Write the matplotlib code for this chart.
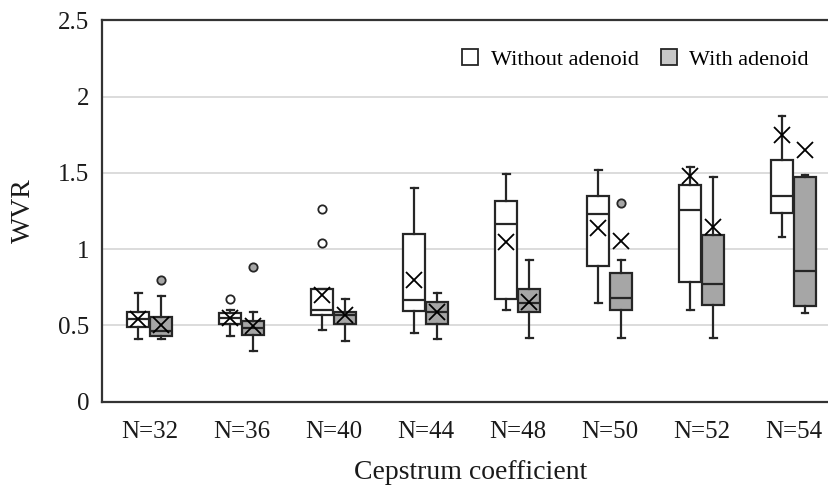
import matplotlib
matplotlib.use("Agg")
import matplotlib.pyplot as plt
from matplotlib.patches import Patch

plt.rcParams['font.family'] = ['Liberation Serif', 'DejaVu Serif']

# ---- data ----
categories = ["N=32", "N=36", "N=40", "N=44", "N=48", "N=50", "N=52", "N=54"]

# Without adenoid
wo_low = [0.41, 0.43, 0.47, 0.45, 0.60, 0.645, 0.60, 1.08]
wo_q1 = [0.49, 0.51, 0.565, 0.595, 0.67, 0.89, 0.785, 1.235]
wo_med = [0.54, 0.545, 0.60, 0.665, 1.165, 1.23, 1.255, 1.35]
wo_q3 = [0.585, 0.58, 0.74, 1.10, 1.315, 1.35, 1.42, 1.585]
wo_high = [0.71, 0.60, 0.74, 1.40, 1.495, 1.52, 1.54, 1.87]
wo_mean = [0.54, 0.545, 0.70, 0.80, 1.045, 1.14, 1.48, 1.745]
wo_out = [[], [0.67], [1.04, 1.26], [], [], [], [], []]

# With adenoid
w_low = [0.41, 0.33, 0.40, 0.41, 0.415, 0.415, 0.415, 0.58]
w_q1 = [0.43, 0.435, 0.51, 0.51, 0.585, 0.60, 0.635, 0.625]
w_med = [0.46, 0.48, 0.565, 0.585, 0.645, 0.68, 0.77, 0.855]
w_q3 = [0.555, 0.53, 0.59, 0.65, 0.735, 0.84, 1.09, 1.47]
w_high = [0.69, 0.59, 0.67, 0.71, 0.93, 0.93, 1.47, 1.485]
w_mean = [0.505, 0.495, 0.565, 0.59, 0.65, 1.05, 1.145, 1.65]
w_out = [[0.80], [0.885], [], [], [], [1.30], [], []]

grey = '#a6a6a6'
edge = '#262626'


def make_stats(low, q1, med, q3, high, mean, out):
    return [dict(whislo=a, q1=b, med=c, q3=d, whishi=e, mean=f, fliers=g)
            for a, b, c, d, e, f, g in zip(low, q1, med, q3, high, mean, out)]


fig = plt.figure(figsize=(8.29, 4.94), dpi=100)
ax = fig.add_axes([0.123, 0.187, 0.89, 0.772])

for stats, off, fc in [
        (make_stats(wo_low, wo_q1, wo_med, wo_q3, wo_high, wo_mean, wo_out), -0.125, 'white'),
        (make_stats(w_low, w_q1, w_med, w_q3, w_high, w_mean, w_out), 0.125, grey)]:
    pos = [i + off for i in range(len(categories))]
    ax.bxp(stats, positions=pos, widths=0.235, patch_artist=True, showmeans=True,
           capwidths=0.07, manage_ticks=False,
           boxprops=dict(facecolor=fc, edgecolor=edge, linewidth=1.6),
           medianprops=dict(color=edge, linewidth=1.6),
           whiskerprops=dict(color=edge, linewidth=1.6),
           capprops=dict(color=edge, linewidth=1.6),
           meanprops=dict(marker='x', markeredgecolor='black', markersize=12,
                          markeredgewidth=1.3),
           flierprops=dict(marker='o', markerfacecolor=fc, markeredgecolor=edge,
                           markersize=6, markeredgewidth=1.3))

ax.set_xlim(-0.52, len(categories) - 0.5)
ax.set_ylim(0, 2.5)
ax.set_yticks([0, 0.5, 1, 1.5, 2, 2.5])
ax.set_yticklabels(['0', '0.5', '1', '1.5', '2', '2.5'])
ax.set_xticks(range(len(categories)))
ax.set_xticklabels(categories)
ax.tick_params(length=0, labelsize=18, colors='#1a1a1a')
ax.tick_params(axis='x', pad=14)
ax.tick_params(axis='y', pad=9)

ax.grid(axis='y', color='#d9d9d9', linewidth=1.3)
ax.set_axisbelow(True)
for s in ax.spines.values():
    s.set_color('#333333')
    s.set_linewidth(1.6)

ax.set_xlabel('Cepstrum coefficient', fontsize=20, labelpad=12, color='#1a1a1a')
ax.set_ylabel('WVR', fontsize=20, labelpad=16, color='#1a1a1a')

handles = [Patch(facecolor='white', edgecolor=edge, linewidth=1.3, label='Without adenoid'),
           Patch(facecolor='#c8c8c8', edgecolor=edge, linewidth=1.3, label='With adenoid')]
fig.legend(handles=handles, ncol=2, loc='center right', bbox_to_anchor=(1.0, 0.88),
           frameon=False, fontsize=16, handlelength=0.75, handleheight=0.75,
           handletextpad=0.55, columnspacing=1.0)

fig.savefig('out.png', dpi=100)
